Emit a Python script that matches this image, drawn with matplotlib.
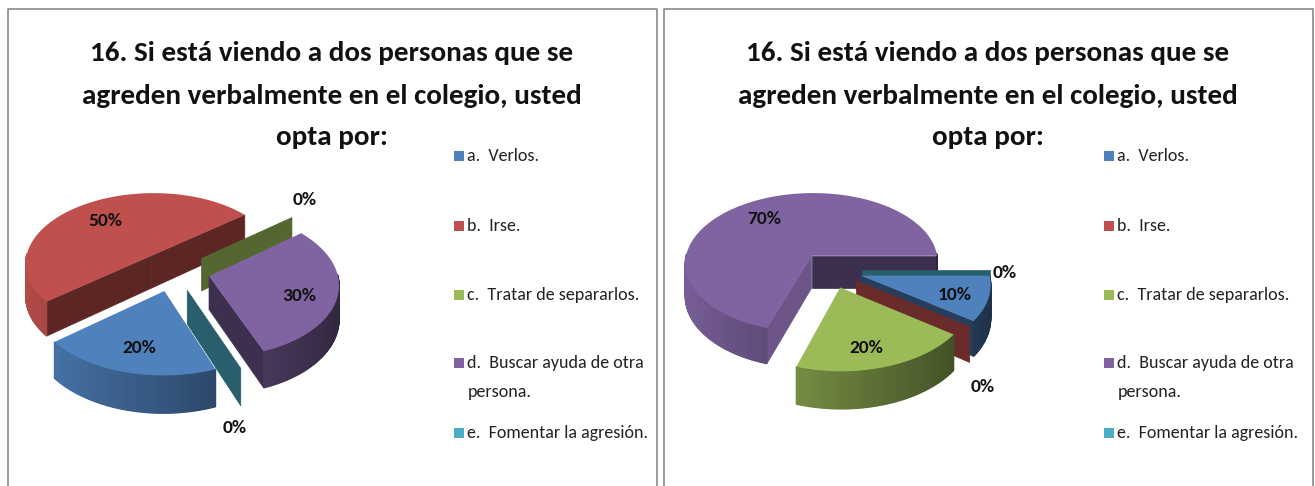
import numpy as np
import matplotlib
matplotlib.use("Agg")
import matplotlib.pyplot as plt
from matplotlib.patches import Polygon, Rectangle

# Survey answers, one list per chart
categories = ["a.  Verlos.", "b.  Irse.", "c.  Tratar de separarlos.",
              "d.  Buscar ayuda de otra", "e.  Fomentar la agresión."]
values_left = [20, 50, 0, 30, 0]
values_right = [10, 0, 20, 70, 0]
title_lines = ["16. Si está viendo a dos personas que se",
               "agreden verbalmente en el colegio, usted",
               "opta por:"]

colors = ["#4f81bd", "#c0504d", "#9bbb59", "#8064a2", "#4bacc6"]
legend_y = [156, 226, 295, 363, 433]

# pie geometry, in image pixels
R = 128
K = 0.56
PERSP = 0.1
DEPTH = 33


def shade(color, f):
    rgb = np.array(matplotlib.colors.to_rgb(color))
    return tuple(rgb * f)


def project(cx, cy, x, y, z=0.0):
    # y is toward the viewer, z goes down into the pie
    s = 1 / (1 - PERSP * (y / R))
    return cx + x * s, cy + y * K * s + z * s


def draw_pie(ax, values, start, cx, cy, explode, labels_at):
    total = sum(values)
    slices = []
    a = start
    for i, v in enumerate(values):
        b = a - 360 * v / total
        slices.append((i, v, a, b))
        a = b

    # back to front
    def depth_key(s):
        return np.sin(np.radians(-(s[2] + s[3]) / 2))
    for i, v, a0, a1 in sorted(slices, key=depth_key):
        mid = np.radians((a0 + a1) / 2)
        ox = explode * np.cos(mid)
        oy = -explode * np.sin(mid)
        base = colors[i]
        th = np.radians(np.linspace(a0, a1, max(2, int(abs(a0 - a1)) + 2)))
        rx = ox + R * np.cos(th)
        ry = oy - R * np.sin(th)

        # flat walls from the centre to the rim
        for ang, sign in ((a0, 1), (a1, -1)):
            t = np.radians(ang)
            ex, ey = ox + R * np.cos(t), oy - R * np.sin(t)
            nx = np.cos(t + sign * np.pi / 2)
            ny = -np.sin(t + sign * np.pi / 2)
            if ny <= 0:
                continue
            f = 0.85 if nx > 0.8 else 0.48
            if v == 0:
                f = 0.55
            pts = [project(cx, cy, ox, oy), project(cx, cy, ex, ey),
                   project(cx, cy, ex, ey, DEPTH), project(cx, cy, ox, oy, DEPTH)]
            ax.add_patch(Polygon(pts, closed=True, fc=shade(base, f), ec=shade(base, f), lw=0.5))

        if v == 0:
            continue

        # outer rim, lighter on the left and darker on the right
        for j in range(len(th) - 1):
            if np.sin(th[j]) > 0.02 and np.sin(th[j + 1]) > 0.02:
                continue
            cos_mid = np.cos((th[j] + th[j + 1]) / 2)
            f = 0.66 - 0.28 * cos_mid
            pts = [project(cx, cy, rx[j], ry[j]), project(cx, cy, rx[j + 1], ry[j + 1]),
                   project(cx, cy, rx[j + 1], ry[j + 1], DEPTH), project(cx, cy, rx[j], ry[j], DEPTH)]
            ax.add_patch(Polygon(pts, closed=True, fc=shade(base, f), ec=shade(base, f), lw=0.9))

        # top face
        xs, ys = project(cx, cy, np.r_[ox, rx], np.r_[oy, ry])
        ax.add_patch(Polygon(np.c_[xs, ys], closed=True, fc=base, ec="none"))

    for v, (lx, ly) in zip(values, labels_at):
        ax.text(lx, ly, f"{v}%", fontsize=14, fontweight="bold", ha="center", va="center",
                color="#111111", zorder=10)


def draw_panel(ax, x0, x1, lx, title_x):
    ax.plot([x0, x0, x1, x1], [486, 9, 9, 486], color="#8a8a8a", lw=1.2)
    for line, y in zip(title_lines, [53, 96, 137]):
        ax.text(title_x, y, line, fontsize=21, fontweight="bold", ha="center", va="center",
                color="#111111", zorder=5)
    for name, col, y in zip(categories, colors, legend_y):
        ax.add_patch(Rectangle((lx, y - 5), 10, 10, fc=col, ec="none"))
        ax.text(lx + 13, y, name, fontsize=13, va="center", color="#222222")
    ax.text(lx + 14, legend_y[3] + 29, "persona.", fontsize=13, va="center", color="#222222")


plt.rcParams["font.family"] = ["Carlito", "Lato", "DejaVu Sans"]
fig = plt.figure(figsize=(13.15, 4.86), dpi=100)
ax = fig.add_axes([0, 0, 1, 1])
ax.set_xlim(0, 1315)
ax.set_ylim(486, 0)
ax.axis("off")

draw_panel(ax, 8, 657, 454, 332)
draw_panel(ax, 664, 1313, 1104, 988)

draw_pie(ax, values_left, -69, 174, 271, 36,
         [(139, 348), (105, 221), (305, 200), (299, 296), (235, 428)])
draw_pie(ax, values_right, 0, 830, 270, 32,
         [(955, 295), (983, 387), (866, 348), (764, 219), (1005, 273)])

fig.savefig("out.png", dpi=100)
